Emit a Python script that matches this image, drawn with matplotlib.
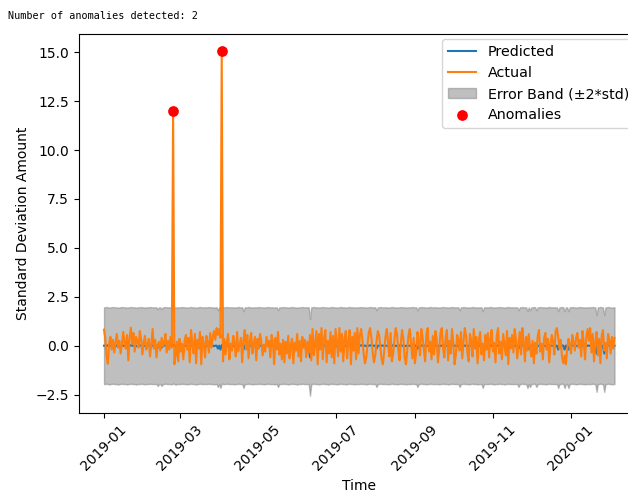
import matplotlib
matplotlib.use("Agg")
import matplotlib.pyplot as plt
import matplotlib.dates as mdates
import numpy as np
import pandas as pd

start_date = "2019-01-01"

actual = [
    0.82, 0.35, -0.55, -0.92, 0.10, 0.45, -0.20, 0.30, -0.35, 0.15, 0.60, -0.10, 0.25, -0.40, 0.05, 0.70, 0.20, -0.15, 0.55, -0.75,
    0.40, 0.92, 0.10, 0.65, -0.30, 0.45, 0.20, -0.10, 0.75, 0.30, -0.45, 0.15, 0.50, -0.20, 0.05, 0.35, -0.55, 0.10, 0.85, -0.15,
    0.30, -0.60, 0.05, 0.20, -0.25, 0.40, -0.05, 0.15, 0.60, -0.35, 0.25, -0.20, 0.45, -0.10, 12.0, -0.95, -0.50, 0.20, -0.80, 0.35,
    -0.30, 0.10, -0.70, 0.25, 0.55, -0.20, 0.40, -0.85, 0.80, 0.15, -0.40, 0.60, -0.90, 0.30, -0.15, 0.70, -0.95, 0.45, 0.10, -0.60,
    0.50, 0.20, -0.35, 0.65, -0.10, 0.45, 0.75, 0.30, 0.90, 0.55, 0.85, 0.40, 15.05, -0.80, 0.35, -0.45, 0.20, 0.60, -0.70, 0.10,
    -0.25, 0.50, 0.15, -0.55, 0.70, -0.30, 0.05, 0.40, -0.85, 0.30, 0.80, -0.20, 0.55, -0.65, 0.25, 0.65, -0.40, 0.10, 0.45, -0.75,
    0.35, -0.15, 0.60, 0.20, -0.50, 0.05, -0.30, 0.45, -0.05, 0.25, -0.60, 0.55, 0.15, -0.95, 0.40, -0.20, 0.70, -0.45, 0.10, -0.70,
    0.30, -0.85, 0.20, -0.40, 0.50, -0.65, 0.05, 0.35, -0.90, 0.15, -0.25, 0.60, -0.55, 0.25, -0.80, 0.45, -0.10, 0.30, -0.60, 0.20,
    -0.35, 0.55, -0.75, 0.85, -0.50, 0.10, 0.75, -0.95, 0.60, -0.20, 0.90, -0.70, 0.40, 0.80, -0.85, 0.25, -0.40, 0.70, -0.60, 0.50,
    -0.90, 0.85, 0.15, -0.55, 0.90, -0.30, 0.60, -0.80, 0.35, 0.75, -0.65, 0.20, 0.80, -0.95, 0.45, -0.25, 0.65, -0.70, 0.90, -0.40,
    0.55, 0.85, 0.30, -0.45, -0.90, -0.60, 0.10, 0.70, 0.90, 0.40, -0.35, -0.85, -0.50, 0.20, 0.75, 0.55, -0.10, -0.70, -0.95, -0.30,
    0.45, 0.85, 0.20, -0.55, 0.65, -0.80, -0.40, 0.30, 0.90, 0.60, -0.20, -0.75, 0.15, 0.80, 0.35, -0.60, -0.95, -0.25, 0.55, 0.85,
    0.10, -0.65, 0.40, -0.90, -0.35, 0.70, 0.25, -0.50, 0.85, 0.45, -0.15, -0.80, 0.60, 0.90, -0.30, 0.20, -0.70, 0.50, -0.45, 0.75,
    0.35, -0.85, -0.20, 0.65, 0.90, -0.10, -0.60, 0.40, 0.80, -0.75, 0.25, -0.40, 0.85, 0.15, -0.95, -0.50, 0.55, 0.30, -0.25, 0.70,
    -0.65, 0.20, 0.90, 0.50, -0.35, -0.80, 0.60, 0.25, -0.55, 0.85, -0.15, 0.45, -0.90, 0.30, 0.70, -0.45, 0.10, -0.75, 0.55, -0.20,
    0.65, -0.60, 0.35, 0.80, -0.30, 0.15, -0.85, 0.50, 0.90, -0.40, 0.20, -0.70, 0.60, 0.05, -0.50, 0.75, -0.95, 0.40, -0.15, 0.55,
    -0.35, 0.85, 0.30, -0.65, 0.10, 0.70, -0.45, 0.90, 0.20, -0.80, 0.45, -0.25, 0.60, -0.10, -0.55, 0.25, -0.90, 0.15, -0.40, 0.50,
    0.80, -0.30, 0.10, -0.70, 0.40, 0.65, -0.20, 0.35, -0.85, 0.05, 0.55, 0.20, -0.45, 0.75, 0.90, 0.45, -0.15, 0.30, -0.60, -0.90,
    -0.50, -0.95, -0.20, 0.35, 0.10, -0.40, 0.55, 0.20, -0.25, 0.40, 0.65, -0.10, 0.30, -0.55, 0.75, 0.15, -0.70, 0.45, 0.85, 0.25,
    0.90, -0.35, 0.60, -0.80, 0.20, 0.70, -0.50, 0.35, -0.90, 0.50, 0.80, -0.25, 0.15, -0.65, 0.60, 0.30, -0.40, 0.45, -0.15, 0.40,
]

predicted = [
    0, 0, 0.02, 0, -0.02, 0, 0, 0.02, 0, 0, 0, -0.03, 0, 0, 0.02, 0, 0, 0, -0.02, 0,
    0, 0.02, 0, 0, 0, -0.03, 0, 0, 0, 0.02, 0, 0, -0.02, 0, 0, 0, 0.02, 0, 0, 0,
    0, 0, -0.10, 0, 0, -0.10, 0, 0, 0.02, 0, 0, 0, 0, -0.02, 0.03, 0, -0.03, 0, 0, 0,
    0, 0.02, 0, 0, 0, -0.02, 0, 0, 0.02, 0, 0, 0, -0.03, 0, 0, 0.02, 0, 0, 0, 0,
    0, 0, 0.02, 0, 0, 0, -0.02, 0, 0, -0.15, 0, -0.20, 0.03, 0, 0, 0, 0.02, 0, 0, 0,
    0, 0, -0.02, 0, 0, 0.02, 0, 0, 0, -0.20, 0, 0, 0, 0.02, 0, 0, -0.02, 0, 0, 0,
    0, 0.02, 0, 0, 0, -0.02, 0, 0, 0.02, 0, 0, 0, 0, -0.02, 0, 0, -0.15, 0, 0, 0,
    0.02, 0, 0, 0, -0.02, 0, 0, 0.02, 0, 0, 0, -0.03, 0, 0, 0, 0.02, 0, 0, 0, 0,
    0, -0.60, 0, 0, 0.02, 0, 0, 0, -0.02, 0, 0, 0.02, 0, 0, 0, -0.03, 0, 0, 0.02, 0,
    0, 0, -0.02, 0, 0, 0.02, 0, 0, 0, -0.02, 0, 0, 0.02, 0, 0, 0, -0.02, 0, 0, 0,
    0, 0.02, 0, 0, 0, -0.02, 0, 0, 0.02, 0, 0, 0, 0, -0.15, 0, 0, 0.02, 0, 0, 0,
    0, 0, -0.02, 0, 0, 0.02, 0, 0, 0, -0.02, 0, 0, 0.02, 0, 0, 0, -0.02, 0, 0, 0,
    0, 0.02, 0, 0, 0, -0.15, 0, 0, 0.02, 0, 0, 0, -0.02, 0, 0, 0.02, 0, 0, 0, 0,
    0, 0, -0.02, 0, 0, 0.02, 0, 0, 0, -0.02, 0, 0, 0.02, 0, 0, 0, 0, 0, -0.15, 0,
    0, 0.02, 0, 0, 0, -0.02, 0, 0, 0.02, 0, 0, 0, -0.02, 0, 0, 0, -0.20, 0, 0, 0,
    0, 0, 0.02, 0, 0, -0.02, 0, 0, 0, 0.02, 0, 0, 0, -0.02, 0, 0, 0.02, 0, 0, 0,
    0, 0, 0, 0, -0.15, 0, 0, 0.02, 0, 0, 0, -0.20, 0, -0.15, 0, 0, 0.02, 0, -0.15, 0,
    0, 0.02, 0, 0, 0, -0.02, 0, 0, 0.02, 0, 0, 0, 0, 0, 0, -0.20, 0, 0, 0.02, 0,
    -0.20, 0, 0, -0.20, 0, 0, 0.02, 0, 0, -0.02, 0, 0, 0.02, 0, 0, 0, -0.02, 0, 0, 0,
    0, 0, 0.02, 0, 0, -0.40, 0, 0, 0.02, 0, 0, -0.40, 0, 0, 0.02, 0, 0, -0.02, 0, 0,
]

error_std = 0.98
anomaly_idx = [54, 92]
title_text = "Number of anomalies detected: 2"

n = len(actual)
dates = pd.date_range(start_date, periods=n, freq="D")
pred = np.array(predicted[:n], dtype=float)
act = np.array(actual, dtype=float)

fig = plt.figure(figsize=(6.28, 4.93), dpi=100)
ax = fig.add_axes([78.5 / 628, 80 / 493, (640 - 78.5) / 628, 379 / 493])

ax.plot(dates, pred, color="C0", label="Predicted")
ax.plot(dates, act, color="C1", label="Actual")
ax.fill_between(dates, pred - 2 * error_std, pred + 2 * error_std,
                color="gray", alpha=0.5, label="Error Band (\u00b12*std)")
ax.scatter(dates[anomaly_idx], act[anomaly_idx], color="red", s=45,
           zorder=5, label="Anomalies")

ax.xaxis.set_major_locator(mdates.MonthLocator(bymonth=[1, 3, 5, 7, 9, 11]))
ax.xaxis.set_major_formatter(mdates.DateFormatter("%Y-%m"))
plt.setp(ax.get_xticklabels(), rotation=45)
ax.set_xlabel("Time")
ax.set_ylabel("Standard Deviation Amount")
ax.legend(loc="upper right", fontsize=10.3,
          bbox_to_anchor=(1.0, 1.0), bbox_transform=ax.transAxes,
          borderaxespad=0.35)

fig.text(8 / 628, 1 - 19 / 493, title_text, family="DejaVu Sans Mono",
         fontsize=7.3, ha="left", va="baseline")

fig.savefig("out.png", dpi=100)
